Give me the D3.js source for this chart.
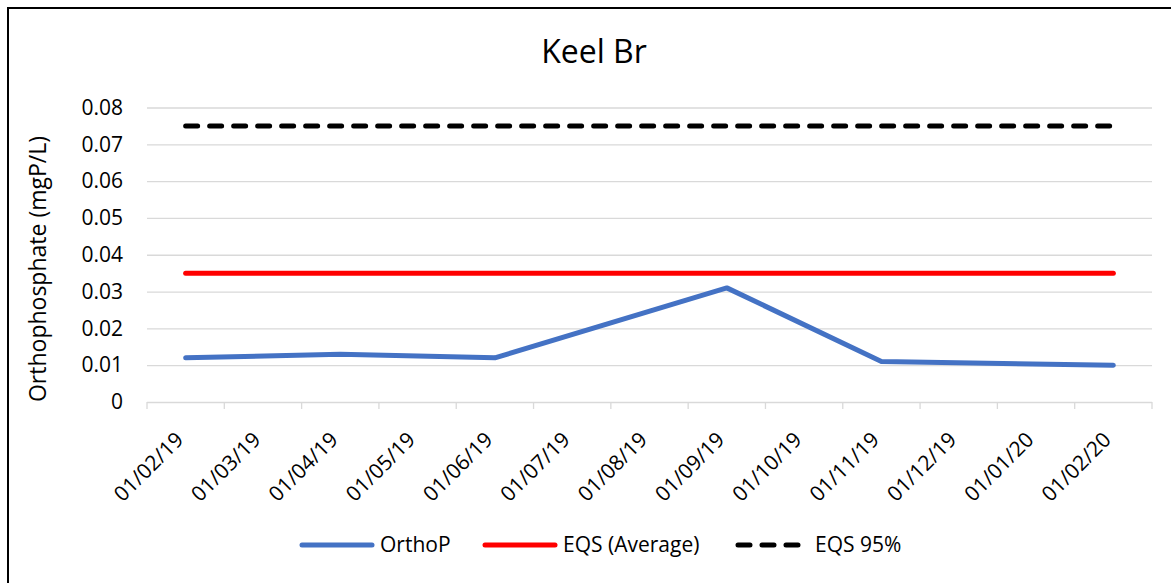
<html>
<head>
<meta charset="UTF-8">
<script src="https://cdn.jsdelivr.net/npm/d3@7"></script>
<style>
	body { margin: 0; background: #fff; }
	text { font-family: "Open Sans", sans-serif; fill: #000; }
	.grid line { stroke: #d9d9d9; stroke-width: 1.3; }
	.grid path { display: none; }
	.yaxis path, .yaxis line { display: none; }
	.xaxis path, .xaxis line { display: none; }
	.tick-mark { stroke: #d9d9d9; stroke-width: 1.3; }
	.series { fill: none; stroke-width: 5; stroke-linecap: round; stroke-linejoin: round; }
</style>
</head>
<body>
<svg id="chart" width="1171" height="583"></svg>
<script>
// month slots on the date axis (also the tick labels)
var months = ["01/02/19","01/03/19","01/04/19","01/05/19","01/06/19","01/07/19",
	"01/08/19","01/09/19","01/10/19","01/11/19","01/12/19","01/01/20","01/02/20"];
// sample months
var sampleMonths = ["01/02/19","01/04/19","01/06/19","01/09/19","01/11/19","01/02/20"];
var orthoP = [0.012, 0.013, 0.012, 0.031, 0.011, 0.010];
var eqsAverage = [0.035, 0.035, 0.035, 0.035, 0.035, 0.035];
var eqs95 = [0.075, 0.075, 0.075, 0.075, 0.075, 0.075];
var yTicks = [0, 0.01, 0.02, 0.03, 0.04, 0.05, 0.06, 0.07, 0.08];
var seriesNames = ["OrthoP", "EQS (Average)", "EQS 95%"];

(function(d3) {
	var svg = d3.select("#chart");
	var left = 147, right = 1152, top = 107.5, bottom = 402;

	// outer border (right and bottom edges fall outside the picture)
	svg.append("rect")
		.attr("x", 8).attr("y", 8)
		.attr("width", 1200).attr("height", 620)
		.attr("fill", "none").attr("stroke", "#000").attr("stroke-width", 2);

	var x = d3.scaleBand().domain(months).range([left, right]).padding(0);
	var y = d3.scaleLinear().domain([0, 0.08]).range([bottom, top]);

	function cx(m) { return x(m) + x.bandwidth() / 2; }

	// gridlines
	svg.append("g")
		.attr("class", "grid")
		.attr("transform", "translate(" + left + ",0)")
		.call(d3.axisLeft(y).tickValues(yTicks).tickSize(-(right - left)).tickFormat(""));

	// y labels
	svg.append("g")
		.attr("class", "yaxis")
		.attr("transform", "translate(" + left + ",0)")
		.call(d3.axisLeft(y).tickValues(yTicks).tickSize(0).tickPadding(24)
			.tickFormat(function(d) { return d === 0 ? "0" : d3.format(".2f")(d); }))
		.selectAll("text")
		.style("font-size", "21px");

	// x tick marks at slot boundaries
	var bounds = months.map(function(m) { return x(m); }).concat([right]);
	svg.selectAll("line.tick-mark")
		.data(bounds).enter()
		.append("line")
		.attr("class", "tick-mark")
		.attr("x1", function(d) { return d; })
		.attr("x2", function(d) { return d; })
		.attr("y1", bottom)
		.attr("y2", bottom + 7);

	// x labels
	svg.append("g")
		.attr("class", "xaxis")
		.attr("transform", "translate(0," + bottom + ")")
		.call(d3.axisBottom(x).tickSize(0))
		.selectAll("text")
		.style("font-size", "21px")
		.attr("text-anchor", "end")
		.attr("y", 0).attr("dy", 0)
		.attr("transform", "translate(-1,39) rotate(-45)");

	// axis title
	svg.append("text")
		.attr("transform", "translate(38,269) rotate(-90)")
		.attr("text-anchor", "middle")
		.attr("dy", "0.35em")
		.style("font-size", "23px")
		.text("Orthophosphate (mgP/L)");

	// chart title
	svg.append("text")
		.attr("x", 594).attr("y", 63)
		.attr("text-anchor", "middle")
		.style("font-size", "32px")
		.text("Keel Br");

	var line = d3.line()
		.x(function(d) { return cx(d[0]); })
		.y(function(d) { return y(d[1]); });

	function pairs(vals) { return sampleMonths.map(function(m, i) { return [m, vals[i]]; }); }

	svg.append("path").attr("class", "series")
		.attr("stroke", "#4472c4").attr("d", line(pairs(orthoP)));
	svg.append("path").attr("class", "series")
		.attr("stroke", "#ff0000").attr("d", line(pairs(eqsAverage)));
	svg.append("path").attr("class", "series")
		.attr("stroke", "#000").attr("stroke-dasharray", "12,12").attr("d", line(pairs(eqs95)));

	// legend
	var legendX = [302, 485, 738];
	var legendColors = ["#4472c4", "#ff0000", "#000"];
	var legendY = 545;
	var lg = svg.selectAll("g.legend")
		.data(seriesNames).enter()
		.append("g")
		.attr("class", "legend")
		.attr("transform", function(d, i) { return "translate(" + legendX[i] + "," + legendY + ")"; });
	lg.append("line")
		.attr("class", "series")
		.attr("x1", 0).attr("x2", function(d, i) { return i == 2 ? 60 : 70; })
		.attr("stroke", function(d, i) { return legendColors[i]; })
		.attr("stroke-dasharray", function(d, i) { return i == 2 ? "12,12" : null; });
	lg.append("text")
		.attr("x", function(d, i) { return i == 2 ? 77 : 78; })
		.attr("dy", "0.35em")
		.style("font-size", "21px")
		.text(function(d) { return d; });
})(window.d3);
</script>
</body>
</html>
